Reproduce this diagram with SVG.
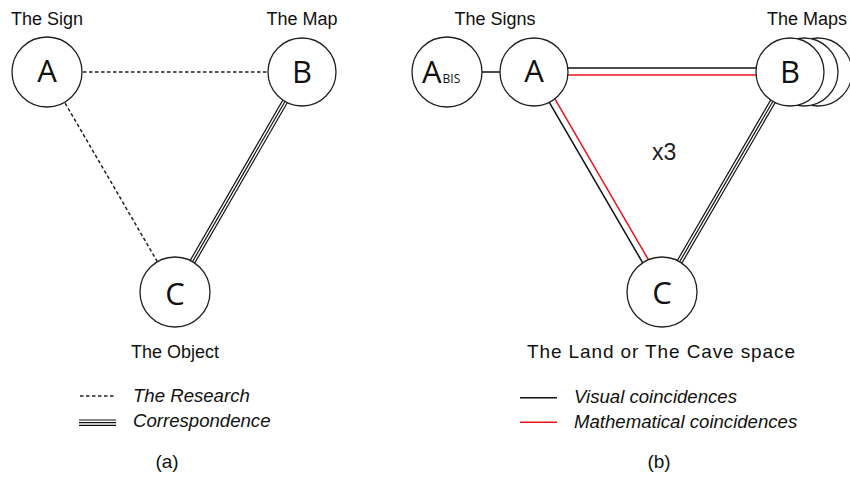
<svg xmlns="http://www.w3.org/2000/svg" width="850" height="477" viewBox="0 0 850 477">
  <style>
    .node { fill: #fff; stroke: #222; stroke-width: 1.3; }
    .letter { font-family: "Open Sans", "Noto Sans", sans-serif; font-size: 31px; fill: #111; text-anchor: middle; }
    .sub { font-family: "Open Sans", "Noto Sans", sans-serif; font-size: 12px; fill: #111; }
    .label { font-family: "Liberation Sans", Arial, sans-serif; font-size: 18px; fill: #111; text-anchor: middle; }
    .legend { font-family: "Liberation Sans", Arial, sans-serif; font-size: 18.6px; font-style: italic; fill: #111; }
    .dash { stroke: #222; stroke-width: 1.5; stroke-dasharray: 3.5 2.5; fill: none; }
    .blk { stroke: #111; stroke-width: 1.5; fill: none; }
    .red { stroke: #e8141c; stroke-width: 1.5; fill: none; }
    .tri { stroke: #111; stroke-width: 1.2; fill: none; }
  </style>
  <rect width="850" height="477" fill="#fff"/>

  <g id="connectors">
    <!-- panel a -->
    <line class="dash" x1="47" y1="72" x2="302" y2="72"/>
    <line class="dash" x1="47" y1="72" x2="175" y2="292"/>
    <line class="tri" x1="302" y1="72" x2="175" y2="292"/>
    <line class="tri" x1="304.25" y1="73.3" x2="177.25" y2="293.3"/>
    <line class="tri" x1="299.75" y1="70.7" x2="172.75" y2="290.7"/>
    <!-- panel b -->
    <line class="blk" x1="447" y1="72" x2="534" y2="72"/>
    <line class="blk" x1="534" y1="68" x2="790" y2="68"/>
    <line class="red" x1="534" y1="75" x2="790" y2="75"/>
    <line class="blk" x1="532.27" y1="73.01" x2="660.27" y2="293.01"/>
    <line class="red" x1="537.89" y1="69.74" x2="665.89" y2="289.74"/>
    <line class="tri" x1="790" y1="72" x2="662" y2="292"/>
    <line class="tri" x1="792.25" y1="73.3" x2="664.25" y2="293.3"/>
    <line class="tri" x1="787.75" y1="70.7" x2="659.75" y2="290.7"/>
  </g>

  <!-- panel a nodes -->
  <g id="nodeA">
    <circle class="node" cx="47" cy="72" r="35"/>
    <text class="letter" x="47" y="82">A</text>
    <text class="label" x="47" y="25">The Sign</text>
  </g>
  <g id="nodeB">
    <circle class="node" cx="302" cy="72" r="34"/>
    <text class="letter" x="302" y="83">B</text>
    <text class="label" x="302" y="25">The Map</text>
  </g>
  <g id="nodeC">
    <circle class="node" cx="175" cy="292" r="35"/>
    <text class="letter" x="175" y="305">C</text>
    <text class="label" x="175" y="358">The Object</text>
  </g>

  <!-- panel b nodes -->
  <g id="nodeAbis">
    <circle class="node" cx="447" cy="72" r="35"/>
    <text x="422" y="83"><tspan class="letter" style="text-anchor:start">A</tspan><tspan class="sub" dx="1">BIS</tspan></text>
  </g>
  <g id="nodeA2">
    <circle class="node" cx="534" cy="72" r="34"/>
    <text class="letter" x="534" y="82">A</text>
    <text class="label" x="495" y="25">The Signs</text>
  </g>
  <g id="nodeB2">
    <circle class="node" cx="818" cy="72" r="34"/>
    <circle class="node" cx="804" cy="72" r="34"/>
    <circle class="node" cx="790" cy="72" r="34"/>
    <text class="letter" x="790" y="83">B</text>
    <text class="label" x="807" y="25">The Maps</text>
  </g>
  <g id="nodeC2">
    <circle class="node" cx="662" cy="292" r="35"/>
    <text class="letter" x="662" y="304">C</text>
    <text class="label" x="661" y="358" style="font-size:19px" textLength="268" lengthAdjust="spacing">The Land or The Cave space</text>
  </g>
  <text x="652" y="160" font-family="Liberation Sans, Arial, sans-serif" font-size="23" fill="#222">x3</text>

  <!-- legend a -->
  <g id="legendA">
    <line class="dash" x1="80" y1="396" x2="116" y2="396"/>
    <text class="legend" x="133" y="402">The Research</text>
    <line class="tri" x1="79" y1="420" x2="116" y2="420"/>
    <line class="tri" x1="79" y1="422.7" x2="116" y2="422.7"/>
    <line class="tri" x1="79" y1="425.4" x2="116" y2="425.4"/>
    <text class="legend" x="133" y="427">Correspondence</text>
    <text class="label" x="167" y="468" style="font-size:19px">(a)</text>
  </g>

  <!-- legend b -->
  <g id="legendB">
    <line class="blk" x1="520" y1="397.7" x2="557" y2="397.7"/>
    <text class="legend" x="574" y="403">Visual coincidences</text>
    <line class="red" x1="520" y1="422.3" x2="557" y2="422.3"/>
    <text class="legend" x="574" y="428">Mathematical coincidences</text>
    <text class="label" x="659" y="468" style="font-size:19px">(b)</text>
  </g>
</svg>
